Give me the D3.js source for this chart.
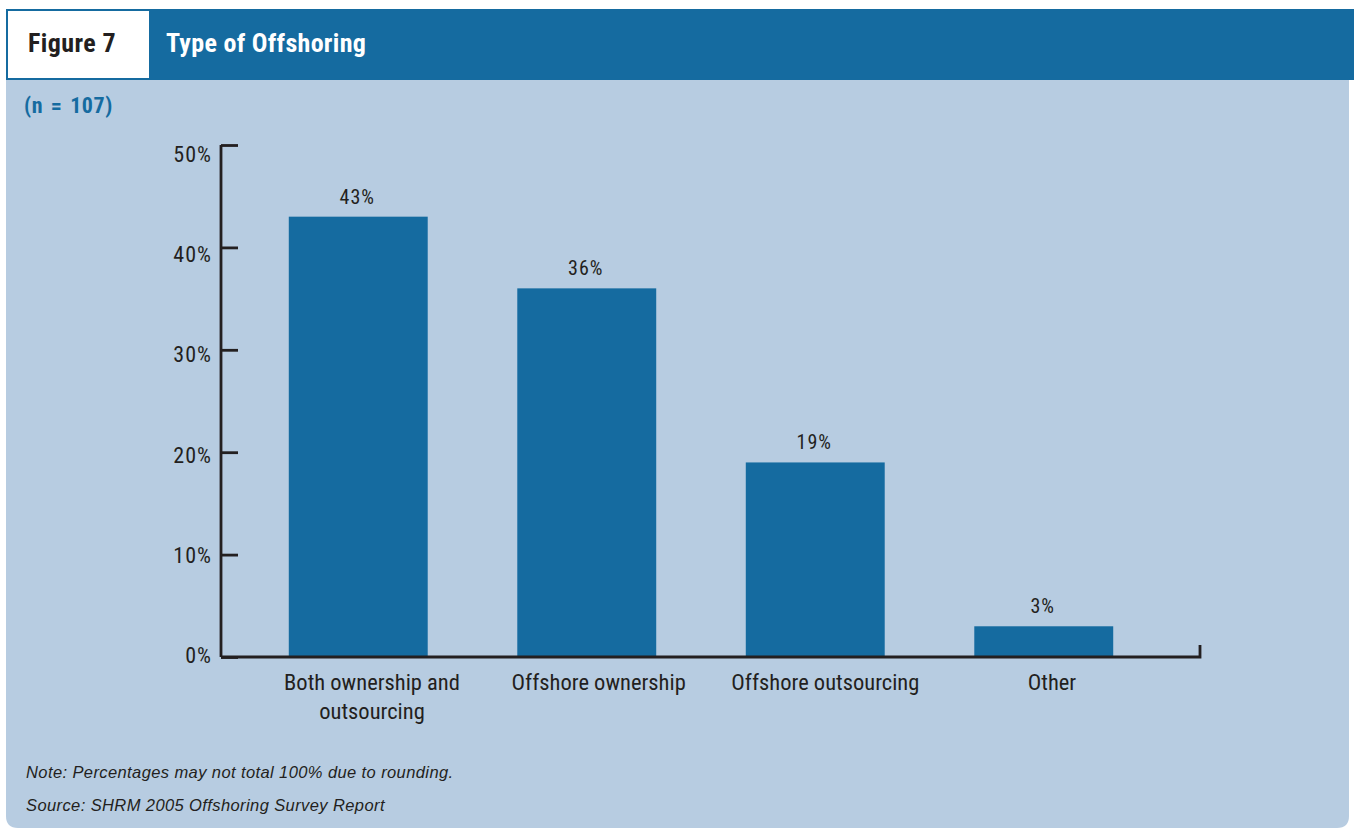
<!DOCTYPE html>
<html>
<head>
<meta charset="utf-8">
<script src="https://cdn.jsdelivr.net/npm/d3@7"></script>
<style>
  html, body { margin: 0; padding: 0; background: #ffffff; }
  svg { display: block; }
</style>
</head>
<body>
<svg id="chart" width="1354" height="829"></svg>
<script>
// Chart data
const categories = [["Both ownership and", "outsourcing"], ["Offshore ownership"], ["Offshore outsourcing"], ["Other"]];
const values = [43, 36, 19, 3];
const yTicks = [0, 10, 20, 30, 40, 50];

const blue = "#156ba0";
const panel = "#b7cce1";
const ink = "#231f20";
const narrow = '"Roboto Condensed", "Liberation Sans Narrow", "Arial Narrow", "DejaVu Sans Condensed", sans-serif';
const body = '"Liberation Sans", Arial, sans-serif';

const svg = d3.select("#chart");

// Light panel with rounded lower corners
const px0 = 6, py0 = 80, px1 = 1349, py1 = 828, r = 12;
svg.append("path")
  .attr("d", `M${px0},${py0} H${px1} V${py1 - r} Q${px1},${py1} ${px1 - r},${py1} H${px0 + r} Q${px0},${py1} ${px0},${py1 - r} Z`)
  .attr("fill", panel);

// Header band
svg.append("rect").attr("x", 6).attr("y", 9).attr("width", 1348).attr("height", 71).attr("fill", blue);
svg.append("rect").attr("x", 8).attr("y", 11).attr("width", 141).attr("height", 67).attr("fill", "#ffffff");

svg.append("text")
  .attr("x", 28).attr("y", 52)
  .attr("font-family", narrow).attr("font-weight", "bold").attr("font-size", 26)
  .attr("letter-spacing", 0.4)
  .attr("fill", ink)
  .text("Figure 7");

svg.append("text")
  .attr("x", 166).attr("y", 52)
  .attr("font-family", narrow).attr("font-weight", "bold").attr("font-size", 26)
  .attr("letter-spacing", 0.3)
  .attr("fill", "#ffffff")
  .text("Type of Offshoring");

svg.append("text")
  .attr("x", 24).attr("y", 113)
  .attr("font-family", narrow).attr("font-weight", "bold").attr("font-size", 22)
  .attr("letter-spacing", 0.6).attr("word-spacing", 2)
  .attr("fill", blue)
  .text("(n = 107)");

// Scales
const x = d3.scaleBand()
  .domain(d3.range(categories.length))
  .range([244, 1158])
  .paddingInner(0.392)
  .paddingOuter(0.196);

// Category label centres
const xLabel = d3.scalePoint()
  .domain(d3.range(categories.length))
  .range([372, 1052]);

const y = d3.scaleLinear().domain([0, 50]).range([657, 145]);
// Baselines for the y tick labels, which sit just under each tick
const yLabel = d3.scaleLinear().domain([0, 50]).range([663, 162]);

// Bars
svg.append("g").selectAll("rect")
  .data(values)
  .join("rect")
  .attr("x", (d, i) => x(i))
  .attr("y", d => y(d))
  .attr("width", x.bandwidth())
  .attr("height", d => y(0) - y(d))
  .attr("fill", blue);

// Value labels
svg.append("g").selectAll("text")
  .data(values)
  .join("text")
  .attr("x", (d, i) => x(i) + x.bandwidth() / 2 - 1)
  .attr("y", d => y(d) - 13)
  .attr("text-anchor", "middle")
  .attr("font-family", narrow).attr("font-size", 20)
  .attr("letter-spacing", 1)
  .attr("fill", ink)
  .text(d => d + "%");

// Y axis: ticks point inward
const yAxis = d3.axisRight(y)
  .tickValues(yTicks)
  .tickSize(17)
  .tickFormat(() => "");
const yg = svg.append("g").attr("transform", "translate(221,0)").call(yAxis);
yg.select(".domain").attr("d", `M0,${y(50)}V${y(0)}`).attr("stroke", ink).attr("stroke-width", 2.8);
yg.selectAll(".tick line").attr("stroke", ink).attr("stroke-width", 2.8);

svg.append("g").selectAll("text")
  .data(yTicks)
  .join("text")
  .attr("x", 212)
  .attr("y", d => yLabel(d))
  .attr("text-anchor", "end")
  .attr("font-family", narrow).attr("font-size", 22)
  .attr("letter-spacing", 1)
  .attr("fill", ink)
  .text(d => d + "%");

// X axis baseline with end tick
svg.append("path")
  .attr("d", `M221,${y(0)} H1200 V${y(0) - 12}`)
  .attr("fill", "none")
  .attr("stroke", ink)
  .attr("stroke-width", 2.8);

// Category labels
const catG = svg.append("g").selectAll("text")
  .data(categories)
  .join("text")
  .attr("x", (d, i) => xLabel(i))
  .attr("y", 690)
  .attr("text-anchor", "middle")
  .attr("font-family", narrow).attr("font-size", 22.5)
  .attr("fill", ink);
catG.selectAll("tspan")
  .data(d => d)
  .join("tspan")
  .attr("x", function () { return this.parentNode.getAttribute("x"); })
  .attr("dy", (d, i) => i === 0 ? 0 : 29)
  .text(d => d);

// Footnotes
svg.append("text")
  .attr("x", 26).attr("y", 778)
  .attr("font-family", body).attr("font-style", "italic").attr("font-size", 16.5)
  .attr("letter-spacing", 0.4)
  .attr("fill", ink)
  .text("Note: Percentages may not total 100% due to rounding.");
svg.append("text")
  .attr("x", 26).attr("y", 811)
  .attr("font-family", body).attr("font-style", "italic").attr("font-size", 16.5)
  .attr("letter-spacing", 0.4)
  .attr("fill", ink)
  .text("Source: SHRM 2005 Offshoring Survey Report");
</script>
</body>
</html>
